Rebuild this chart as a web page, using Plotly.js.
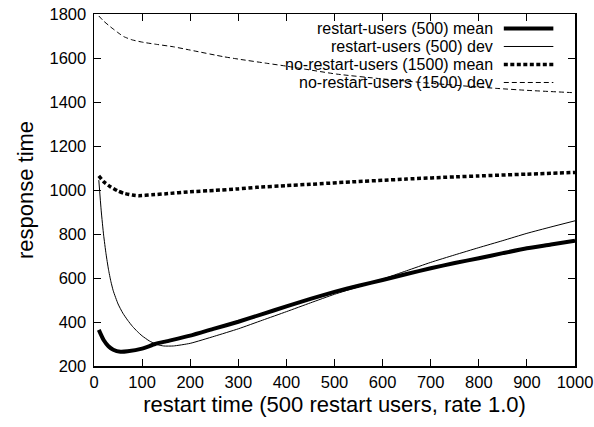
<!DOCTYPE html>
<html>
<head>
<meta charset="utf-8">
<script src="https://cdn.plot.ly/plotly-3.0.1.min.js"></script>
<style>html,body{margin:0;padding:0;background:#fff;}#chart{width:594px;height:427px;}</style>
</head>
<body>
<div id="chart"></div>
<script>
// restart-users (500) mean
var restartMeanX = [10, 20, 30, 40, 55, 70, 100, 127, 150, 200, 250, 300, 350, 400, 450, 500, 550, 600, 650, 700, 750, 800, 850, 900, 950, 1000];
var restartMeanY = [364, 318, 290, 274, 265, 267, 279, 300, 312, 338, 370, 401, 436, 471, 505, 537, 565, 591, 618, 644, 668, 690, 713, 735, 752, 770];
// restart-users (500) dev
var restartDevX = [10, 15, 20, 25, 30, 35, 40, 50, 60, 70, 80, 90, 100, 115, 130, 145, 165, 200, 250, 300, 350, 400, 450, 500, 550, 600, 650, 700, 750, 800, 850, 900, 950, 1000];
var restartDevY = [1045, 905, 795, 710, 640, 585, 542, 482, 440, 408, 380, 357, 337, 314, 298, 291, 291, 303, 335, 369, 408, 447, 487, 526, 560, 595, 633, 671, 705, 738, 770, 803, 832, 860];
// no-restart-users (1500) mean
var noRestartMeanX = [10, 20, 34, 50, 62, 80, 93, 120, 150, 200, 250, 300, 338, 400, 450, 545, 600, 650, 753, 800, 900, 1000];
var noRestartMeanY = [1064, 1038, 1015, 995, 985, 977, 974, 978, 983, 992, 998, 1005, 1012, 1020, 1026, 1038, 1044, 1050, 1060, 1064, 1072, 1080];
// no-restart-users (1500) dev
var noRestartDevX = [10, 20, 34, 50, 62, 80, 103, 130, 165, 200, 269, 300, 359, 400, 504, 600, 700, 836, 900, 1000];
var noRestartDevY = [1791, 1768, 1742, 1715, 1697, 1682, 1671, 1662, 1651, 1636, 1606, 1595, 1576, 1563, 1527, 1505, 1485, 1462, 1453, 1442];

var seriesNames = ["restart-users (500) mean", "restart-users (500) dev", "no-restart-users (1500) mean", "no-restart-users (1500) dev"];
var xTicks = [0, 100, 200, 300, 400, 500, 600, 700, 800, 900, 1000];
var yTicks = [200, 400, 600, 800, 1000, 1200, 1400, 1600, 1800];

var styles = [
  {color: "#000", width: 4, dash: "solid"},
  {color: "#000", width: 1, dash: "solid"},
  {color: "#000", width: 3.5, dash: "4px,2.5px"},
  {color: "#000", width: 1, dash: "5px,3px"}
];
var xs = [restartMeanX, restartDevX, noRestartMeanX, noRestartDevX];
var ys = [restartMeanY, restartDevY, noRestartMeanY, noRestartDevY];

var traces = xs.map(function (x, i) {
  return {x: x, y: ys[i], type: "scatter", mode: "lines", name: seriesNames[i],
          line: {color: styles[i].color, width: styles[i].width, dash: styles[i].dash, shape: "spline", smoothing: 0.5},
          showlegend: false, hoverinfo: "skip"};
});

var font = "Liberation Sans, Arial, Helvetica, sans-serif";
var rowsY = [0.9588, 0.9077, 0.8565, 0.8054];
var annotations = [];
var shapes = [];
seriesNames.forEach(function (n, i) {
  annotations.push({xref: "paper", yref: "paper", x: 0.832, y: rowsY[i], xanchor: "right", yanchor: "middle",
                    text: n, showarrow: false, borderpad: 0, font: {family: font, size: 16, color: "#000"}});
  shapes.push({type: "line", xref: "paper", yref: "paper", x0: 0.852, x1: 0.955, y0: rowsY[i], y1: rowsY[i],
               line: {color: styles[i].color, width: styles[i].width, dash: styles[i].dash}});
});

var layout = {
  width: 594, height: 427,
  margin: {l: 93.5, r: 19, t: 14, b: 61},
  paper_bgcolor: "#fff", plot_bgcolor: "#fff",
  showlegend: false,
  font: {family: font, color: "#000"},
  xaxis: {
    range: [0, 1000], tickvals: xTicks, ticktext: xTicks.map(String),
    ticks: "inside", ticklen: 7, tickwidth: 1, tickcolor: "#000",
    showline: true, linecolor: "#000", linewidth: 1.5, mirror: "ticks",
    showgrid: false, zeroline: false, ticklabelstandoff: 1,
    tickfont: {family: font, size: 16.5, color: "#000"},
    title: {text: "restart time (500 restart users, rate 1.0)", font: {family: font, size: 22, color: "#000"}, standoff: 6}
  },
  yaxis: {
    range: [200, 1800], tickvals: yTicks, ticktext: yTicks.map(String),
    ticks: "inside", ticklen: 7, tickwidth: 1, tickcolor: "#000",
    showline: true, linecolor: "#000", linewidth: 1.5, mirror: "ticks",
    showgrid: false, zeroline: false, ticklabelstandoff: 3,
    tickfont: {family: font, size: 16.5, color: "#000"},
    title: {text: "response time", font: {family: font, size: 22, color: "#000"}, standoff: 10}
  },
  annotations: annotations,
  shapes: shapes
};

Plotly.newPlot("chart", traces, layout, {staticPlot: true, displayModeBar: false});
</script>
</body>
</html>
